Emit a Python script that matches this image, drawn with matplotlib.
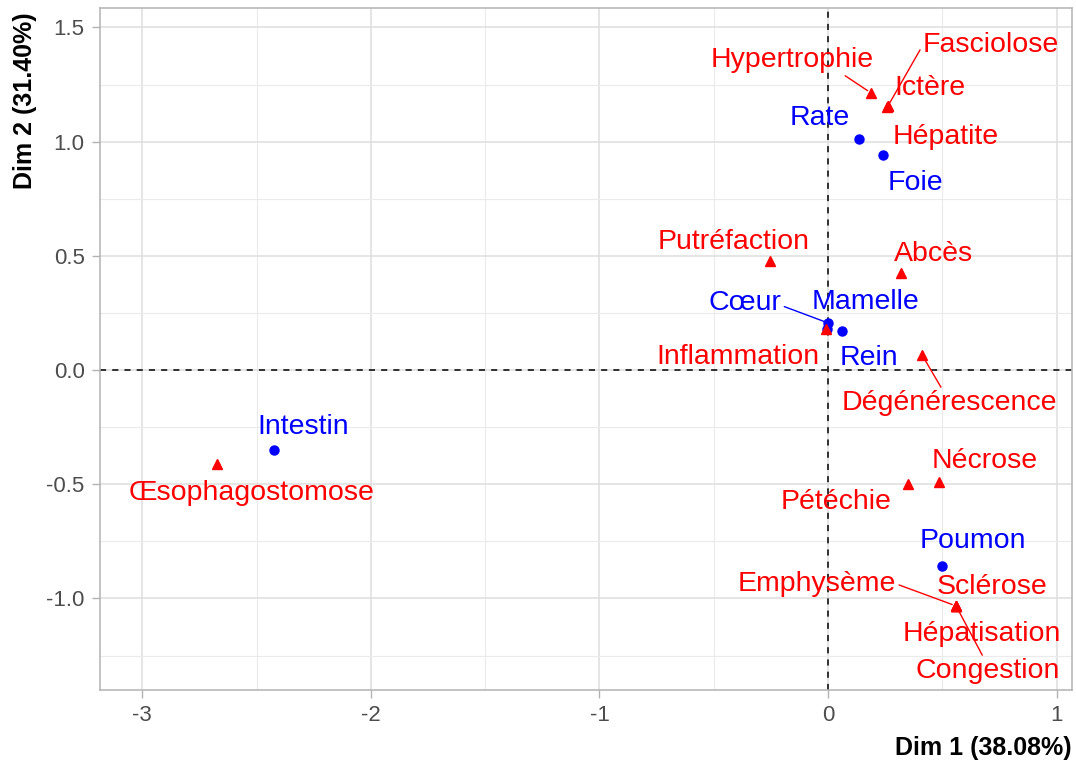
import matplotlib
matplotlib.use("Agg")
import matplotlib.pyplot as plt
import numpy as np

plt.rcParams['font.family'] = ['Liberation Sans', 'DejaVu Sans']

# row profiles (organs)
ROW_NAMES = ['Rate', 'Foie', 'Cœur', 'Mamelle', 'Rein', 'Intestin', 'Poumon']
ROW_X = [0.136, 0.241, 0.000, 0.061, -0.004, -2.423, 0.499]
ROW_Y = [1.011, 0.941, 0.206, 0.171, 0.180, -0.350, -0.858]

# column profiles (lesions)
COL_NAMES = ['Hypertrophie', 'Fasciolose', 'Ictère', 'Hépatite', 'Putréfaction',
             'Abcès', 'Inflammation', 'Dégénérescence', 'Œsophagostomose',
             'Nécrose', 'Pétéchie', 'Emphysème', 'Sclérose', 'Hépatisation',
             'Congestion']
COL_X = [0.188, 0.262, 0.262, 0.258, -0.254, 0.319, -0.009, 0.411, -2.673,
         0.486, 0.350, 0.560, 0.560, 0.560, 0.560]
COL_Y = [1.213, 1.156, 1.156, 1.150, 0.477, 0.425, 0.180, 0.066, -0.412,
         -0.490, -0.499, -1.033, -1.033, -1.033, -1.033]

# repelled label offsets (pixels), and where the segment leaves the label (None = no segment)
ROW_OFFSETS = {'Rate': (-39, 21, None), 'Foie': (32, -28, None),
               'Cœur': (-83, 20, (1.0, 0.4)), 'Mamelle': (23, 29, None),
               'Rein': (42, -29, None), 'Intestin': (29, 23, None),
               'Poumon': (31, 25, None)}
COL_OFFSETS = {'Hypertrophie': (-79, 33, (0.8, 0.0)), 'Fasciolose': (103, 61, (0.0, 0.5)),
               'Ictère': (42, 18, None), 'Hépatite': (59, -30, None),
               'Putréfaction': (-36, 19, None), 'Abcès': (32, 19, None),
               'Inflammation': (-88, -28, None), 'Dégénérescence': (27, -48, (0.47, 1.0)),
               'Œsophagostomose': (35, -29, None), 'Nécrose': (46, 21, None),
               'Pétéchie': (-72, -18, None), 'Emphysème': (-139, 22, (1.0, 0.5)),
               'Sclérose': (36, 19, None), 'Hépatisation': (26, -28, None),
               'Congestion': (32, -65, (0.47, 1.0))}

BLUE = '#0000FF'
RED = '#FF0000'

fig = plt.figure(figsize=(10.76, 7.65), dpi=100)
ax = fig.add_axes([100 / 1076, 75 / 765, 972 / 1076, 682 / 765])

ax.set_xlim(-3.185, 1.067)
ax.set_ylim(-1.401, 1.585)

ax.set_xticks([-3, -2, -1, 0, 1])
ax.set_xticklabels(['-3', '-2', '-1', '0', '1'])
ax.set_yticks([-1.0, -0.5, 0.0, 0.5, 1.0, 1.5])
ax.set_yticklabels(['-1.0', '-0.5', '0.0', '0.5', '1.0', '1.5'])
ax.set_xticks([-2.5, -1.5, -0.5, 0.5], minor=True)
ax.set_yticks([-1.25, -0.75, -0.25, 0.25, 0.75, 1.25], minor=True)

ax.grid(True, which='major', color='#DEDEDE', linewidth=1.1)
ax.grid(True, which='minor', color='#EBEBEB', linewidth=0.8)
ax.set_axisbelow(True)
ax.tick_params(which='major', colors='#B3B3B3', length=6, width=1, pad=5,
               labelcolor='#4D4D4D', labelsize=16)
ax.tick_params(which='minor', length=0)
for sp in ax.spines.values():
    sp.set_edgecolor('#B3B3B3')
    sp.set_linewidth(1.1)

ax.axhline(0, color='black', linestyle=(0, (4, 4)), linewidth=1.1)
ax.axvline(0, color='black', linestyle=(0, (4, 4)), linewidth=1.1)

ax.plot(ROW_X, ROW_Y, 'o', color=BLUE, markersize=6.5, zorder=4)
ax.plot(COL_X, COL_Y, '^', color=RED, markersize=7, zorder=4)


def put_labels(names, xs, ys, offsets, colour):
    for name, x, y in zip(names, xs, ys):
        dx, dy, rel = offsets[name]
        props = None
        if rel is not None:
            props = dict(arrowstyle='-', color=colour, linewidth=1.0,
                         shrinkA=0, shrinkB=3, relpos=rel)
        ax.annotate(name, xy=(x, y), xytext=(dx, dy), textcoords='offset pixels',
                    ha='center', va='center', color=colour, fontsize=20.5,
                    arrowprops=props, zorder=5)


put_labels(ROW_NAMES, ROW_X, ROW_Y, ROW_OFFSETS, BLUE)
put_labels(COL_NAMES, COL_X, COL_Y, COL_OFFSETS, RED)

fig.text(1072 / 1076, 1 - 748 / 765, 'Dim 1 (38.08%)', ha='right', va='center',
         fontsize=18, fontweight='bold')
fig.text(25 / 1076, 1 - 12 / 765, 'Dim 2 (31.40%)', ha='center', va='top',
         rotation=90, fontsize=18, fontweight='bold')

fig.savefig('out.png', dpi=100)
